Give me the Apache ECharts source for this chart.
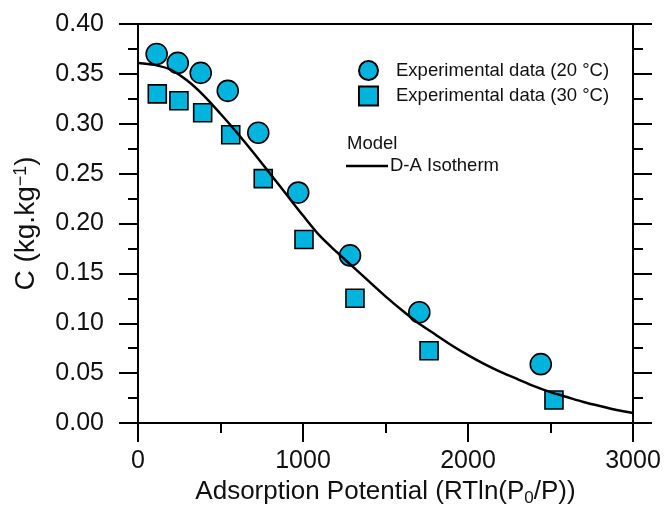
<!DOCTYPE html>
<html>
<head>
<meta charset="utf-8">
<script src="https://cdn.jsdelivr.net/npm/echarts@6/dist/echarts.min.js"></script>
<style>
  html, body { margin: 0; padding: 0; background: #fff; }
  #chart { width: 664px; height: 513px; }
</style>
</head>
<body>
<div id="chart"></div>
<script>
// Experimental uptake at 20 °C
const potential20 = [113, 241, 380, 544, 729, 971, 1285, 1705, 2441];
const uptake20 = [0.370, 0.361, 0.351, 0.333, 0.291, 0.231, 0.168, 0.111, 0.059];

// Experimental uptake at 30 °C
const potential30 = [117, 248, 392, 562, 759, 1006, 1315, 1764, 2521];
const uptake30 = [0.330, 0.323, 0.311, 0.289, 0.245, 0.184, 0.125, 0.0725, 0.023];

// D-A isotherm model curve
const modelPotential = [0, 100, 200, 300, 400, 500, 600, 700, 800, 900, 1000,
  1100, 1200, 1300, 1400, 1500, 1600, 1700, 1800, 1900, 2000,
  2100, 2200, 2300, 2400, 2500, 2600, 2700, 2800, 2900, 3000];
const modelUptake = [0.361, 0.359, 0.354, 0.343, 0.328, 0.310, 0.291, 0.271, 0.250, 0.229, 0.208,
  0.188, 0.172, 0.157, 0.142, 0.127, 0.113, 0.100, 0.089, 0.078, 0.068,
  0.059, 0.051, 0.044, 0.037, 0.031, 0.026, 0.021, 0.017, 0.013, 0.010];

const xTicks = { min: 0, max: 3000, interval: 1000 };
const yTicks = { min: 0, max: 0.40, interval: 0.05 };

const names = {
  s20: 'Experimental data (20 °C)',
  s30: 'Experimental data (30 °C)',
  model: 'D-A Isotherm'
};

const pair = (xs, ys) => xs.map((x, i) => [x, ys[i]]);

const FILL = '#00b4de';
const INK = '#000';
const TEXT = '#111';
const FONT = 'Liberation Sans, Arial, Helvetica, sans-serif';
const axisLine = { show: true, onZero: false, lineStyle: { color: INK, width: 2 } };
const majorTick = { show: true, inside: false, length: 19, lineStyle: { color: INK, width: 2 } };
const minorTick = { show: true, splitNumber: 2, length: 10, lineStyle: { color: INK, width: 2 } };

const chart = echarts.init(document.getElementById('chart'), null, { renderer: 'canvas' });

chart.setOption({
  backgroundColor: '#fff',
  animation: false,
  textStyle: { fontFamily: FONT },
  grid: { left: 138, right: 31, top: 24, bottom: 90, containLabel: false },
  xAxis: [
    {
      type: 'value', position: 'bottom',
      min: xTicks.min, max: xTicks.max, interval: xTicks.interval,
      axisLine: axisLine, axisTick: majorTick, minorTick: minorTick,
      splitLine: { show: false }, minorSplitLine: { show: false },
      axisLabel: { fontSize: 25, color: TEXT, margin: 26, fontFamily: FONT,
        formatter: v => String(v) },
      name: 'Adsorption Potential (RTln(P{sub|0}/P))',
      nameLocation: 'middle', nameGap: 52,
      nameTextStyle: {
        fontSize: 26, color: TEXT, fontFamily: FONT,
        rich: { sub: { fontSize: 17, color: TEXT, verticalAlign: 'bottom', padding: [12, 0, 0, 0], fontFamily: FONT } }
      }
    },
    {
      type: 'value', position: 'top',
      min: xTicks.min, max: xTicks.max, interval: xTicks.interval,
      axisLine: axisLine, axisTick: { show: false }, axisLabel: { show: false },
      splitLine: { show: false }
    }
  ],
  yAxis: [
    {
      type: 'value', position: 'left',
      min: yTicks.min, max: yTicks.max, interval: yTicks.interval,
      axisLine: axisLine, axisTick: majorTick, minorTick: minorTick,
      splitLine: { show: false }, minorSplitLine: { show: false },
      axisLabel: { fontSize: 25, color: TEXT, margin: 34, fontFamily: FONT,
        formatter: v => v.toFixed(2) },
      name: 'C (kg.kg{sup|−1})',
      nameLocation: 'middle', nameGap: 97,
      nameTextStyle: {
        fontSize: 28, color: TEXT, fontFamily: FONT,
        rich: { sup: { fontSize: 18, color: TEXT, verticalAlign: 'top', padding: [0, 0, 11, 0], fontFamily: FONT } }
      }
    },
    {
      type: 'value', position: 'right',
      min: yTicks.min, max: yTicks.max, interval: yTicks.interval,
      axisLine: axisLine, axisTick: majorTick, minorTick: minorTick,
      axisLabel: { show: false },
      splitLine: { show: false }, minorSplitLine: { show: false }
    }
  ],
  legend: [
    {
      data: [names.s20, names.s30],
      orient: 'vertical',
      left: 358, top: 60, padding: 0,
      itemWidth: 19, itemHeight: 19, itemGap: 4.5,
      textStyle: { fontSize: 18.5, color: TEXT, fontFamily: FONT, padding: [0, 0, 0, 13] },
      selectedMode: false
    },
    {
      data: [names.model],
      left: 346, top: 156.5, padding: 0,
      icon: 'rect',
      itemWidth: 42, itemHeight: 2.5,
      itemStyle: { color: INK },
      textStyle: { fontSize: 18.5, color: TEXT, fontFamily: FONT, padding: [0, 0, 0, -3] },
      selectedMode: false
    }
  ],
  graphic: [
    {
      type: 'text', left: 347, top: 134,
      style: { text: 'Model', fontSize: 18.5, fill: TEXT, fontFamily: FONT }
    }
  ],
  series: [
    {
      name: names.s20, type: 'scatter',
      data: pair(potential20, uptake20),
      symbol: 'circle', symbolSize: 21,
      itemStyle: { color: FILL, borderColor: INK, borderWidth: 1.6, opacity: 1 },
      z: 2
    },
    {
      name: names.s30, type: 'scatter',
      data: pair(potential30, uptake30),
      symbol: 'rect', symbolSize: 18,
      itemStyle: { color: FILL, borderColor: INK, borderWidth: 1.6, opacity: 1 },
      z: 2
    },
    {
      name: names.model, type: 'line',
      data: pair(modelPotential, modelUptake),
      smooth: 0.3, showSymbol: false, symbol: 'none',
      lineStyle: { color: INK, width: 2.5 },
      itemStyle: { color: INK },
      z: 3
    }
  ]
});
</script>
</body>
</html>
